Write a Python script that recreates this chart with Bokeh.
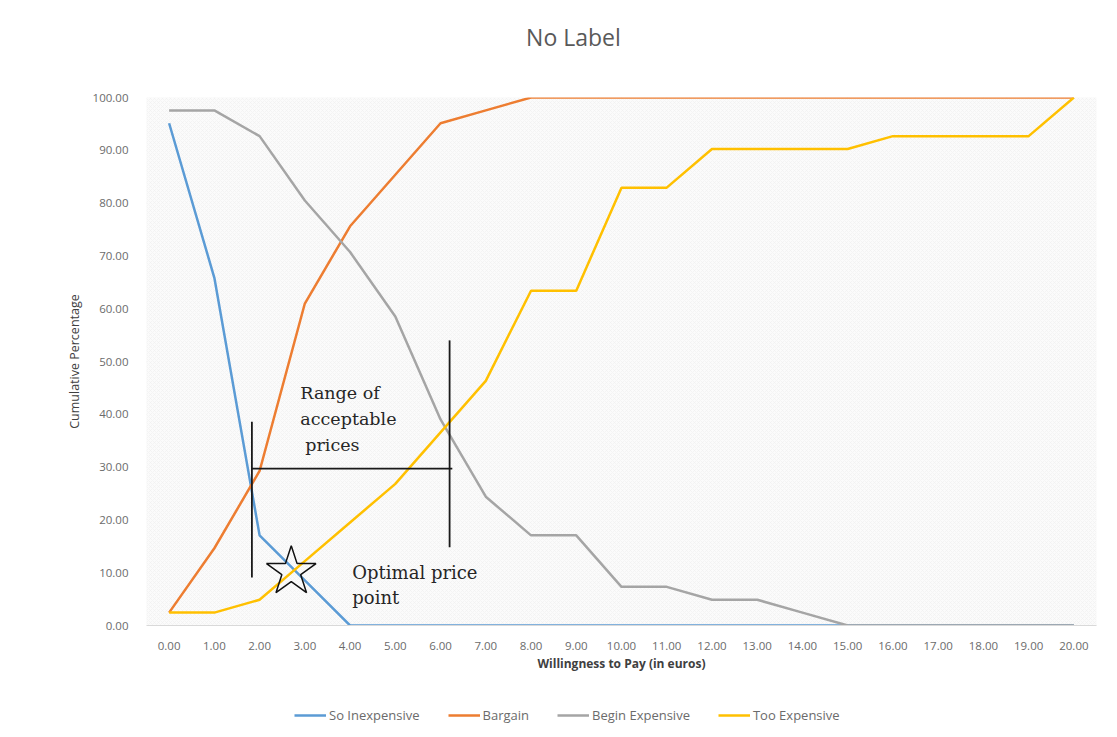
from bokeh.plotting import figure
from bokeh.layouts import column
from bokeh.models import (Legend, LegendItem, FixedTicker, BoxAnnotation, Range1d)
from bokeh.core.properties import value
from bokeh.embed import file_html
from bokeh.resources import INLINE

# ---- data ----
chart_title = "No Label"
prices = list(range(0, 21))
tick_labels = [f"{v:.2f}" for v in prices]
so_inexpensive = [95.12, 65.85, 17.07, 8.54, 0, 0, 0, 0, 0, 0, 0, 0, 0, 0, 0, 0, 0, 0, 0, 0, 0]
bargain = [2.44, 14.63, 29.27, 60.98, 75.61, 85.37, 95.12, 97.56, 100, 100, 100, 100, 100,
           100, 100, 100, 100, 100, 100, 100, 100]
begin_expensive = [97.56, 97.56, 92.68, 80.49, 70.73, 58.54, 39.02, 24.39, 17.07, 17.07, 7.32,
                   7.32, 4.88, 4.88, 2.44, 0, 0, 0, 0, 0, 0]
too_expensive = [2.44, 2.44, 4.88, 12.20, 19.51, 26.83, 36.59, 46.34, 63.41, 63.41, 82.93, 82.93,
                 90.24, 90.24, 90.24, 90.24, 92.68, 92.68, 92.68, 92.68, 100]
series_names = ["So Inexpensive", "Bargain", "Begin Expensive", "Too Expensive"]
series_colors = ["#5B9BD5", "#ED7D31", "#A5A5A5", "#FFC000"]
all_series = [so_inexpensive, bargain, begin_expensive, too_expensive]

# annotation geometry (hand-drawn marks on the original)
range_low, range_high = 1.83, 6.2
range_bar_y = 29.7
range_bar_end = 6.26
low_line_y = [9.1, 38.6]
high_line_y = [14.8, 54.0]
optimal_point = (2.70, 10.2)
range_text = ["Range of", "acceptable", "prices"]
range_text_x = [2.90, 2.90, 3.01]
range_text_y = [44.1, 39.2, 34.1]
opt_text = ["Optimal price", "point"]
opt_text_x = [4.05, 4.05]
opt_text_y = [10.0, 5.3]

# ---- title strip ----
tt = figure(width=1117, height=60, output_backend="svg", toolbar_location=None,
            x_range=Range1d(0, 1117), y_range=Range1d(0, 60),
            min_border=0, x_axis_type=None, y_axis_type=None)
tt.outline_line_color = None
tt.xgrid.visible = False
tt.ygrid.visible = False
tt.text([502], [24], text=[chart_title], text_font=value("Open Sans"), text_font_size="23px",
        text_color="#595959", text_align="center", text_baseline="middle")

# ---- main chart ----
p = figure(width=1117, height=630, output_backend="svg", toolbar_location=None, title=None,
           x_range=Range1d(-0.5, 20.5), y_range=Range1d(0, 100),
           min_border_left=146, min_border_right=21, min_border_top=37, min_border_bottom=65)

p.background_fill_color = "#fbfbfb"
p.border_fill_color = "white"
p.outline_line_color = None
p.add_layout(BoxAnnotation(fill_color="#fbfbfb", fill_alpha=1.0, hatch_pattern="x",
                           hatch_color="#ececec", hatch_scale=4, hatch_weight=0.5,
                           line_color=None, level="underlay"))

p.xaxis.ticker = FixedTicker(ticks=prices)
p.xaxis.major_label_overrides = {v: lab for v, lab in zip(prices, tick_labels)}
p.yaxis.ticker = FixedTicker(ticks=list(range(0, 101, 10)))
p.yaxis.major_label_overrides = {v: f"{v:.2f}" for v in range(0, 101, 10)}
for ax in (p.xaxis, p.yaxis):
    ax.major_tick_line_color = None
    ax.minor_tick_line_color = None
    ax.major_label_text_font = "Open Sans"
    ax.major_label_text_font_size = "11.5px"
    ax.major_label_text_color = "#6b6b6b"
    ax.axis_label_text_font = "Open Sans"
    ax.axis_label_text_color = "#404040"
p.xaxis.axis_line_color = "#d9d9d9"
p.yaxis.axis_line_color = None
p.xaxis.axis_label = "Willingness to Pay (in euros)"
p.xaxis.axis_label_text_font_size = "12px"
p.xaxis.axis_label_text_font_style = "bold"
p.xaxis.major_label_standoff = 10
p.xaxis.axis_label_standoff = 2
p.yaxis.axis_label = "Cumulative Percentage"
p.yaxis.axis_label_text_font_size = "12.5px"
p.yaxis.axis_label_text_font_style = "normal"
p.yaxis.major_label_standoff = 12
p.yaxis.axis_label_standoff = 7

p.xgrid.ticker = FixedTicker(ticks=[i / 2 for i in range(-1, 42)])
p.xgrid.grid_line_color = "#e6e6e6"
p.ygrid.grid_line_color = "#e6e6e6"

for ys, col in zip(all_series, series_colors):
    p.line(prices, ys, line_color=col, line_width=2.5)

# annotations
p.segment(x0=[range_low, range_high, range_low], y0=[low_line_y[0], high_line_y[0], range_bar_y],
          x1=[range_low, range_high, range_bar_end], y1=[low_line_y[1], high_line_y[1], range_bar_y],
          line_color="#1a1a1a", line_width=1.8)
p.scatter([optimal_point[0]], [optimal_point[1]], marker="star", size=52,
          fill_alpha=0, line_color="#111111", line_width=1.5)
p.text(range_text_x, range_text_y, text=range_text, text_font=value("DejaVu Serif"),
       text_font_size="17.5px", text_color="#262626", text_baseline="alphabetic")
p.text(opt_text_x, opt_text_y, text=opt_text, text_font=value("DejaVu Serif"),
       text_font_size="18px", text_color="#262626", text_baseline="alphabetic")

# ---- legend strip ----
lg = figure(width=1117, height=47, output_backend="svg", toolbar_location=None,
            x_range=Range1d(-0.5, 20.5), y_range=Range1d(200, 300),
            min_border=0, x_axis_type=None, y_axis_type=None)
lg.outline_line_color = None
lg.xgrid.visible = False
lg.ygrid.visible = False
items = []
for name, ys, col in zip(series_names, all_series, series_colors):
    r = lg.line(prices, ys, line_color=col, line_width=2.5)
    items.append(LegendItem(label=name, renderers=[r]))
legend = Legend(items=items, orientation="horizontal", location=(148, 12), border_line_color=None,
                background_fill_alpha=0, label_text_font="Open Sans", label_text_font_size="13px",
                label_text_color="#6b6b6b", glyph_width=32, spacing=28, margin=0, padding=5,
                label_standoff=3)
lg.add_layout(legend)

layout = column(tt, p, lg, spacing=0)
open("out.html", "w").write(file_html(layout, INLINE))
